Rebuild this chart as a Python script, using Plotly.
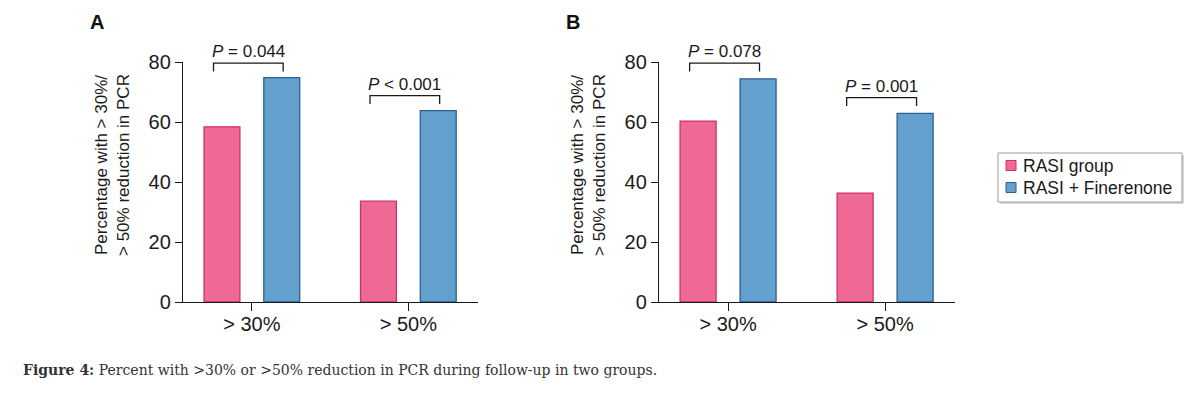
import plotly.graph_objects as go

# ---- data ----
categories = ["> 30%", "> 50%"]
series_names = ["RASI group", "RASI + Finerenone"]
panel_a_rasi = [58.4, 33.6]
panel_a_fin = [74.8, 63.8]
panel_b_rasi = [60.3, 36.3]
panel_b_fin = [74.4, 62.9]
panel_a_p = ["<i>P</i> = 0.044", "<i>P</i> &lt; 0.001"]
panel_b_p = ["<i>P</i> = 0.078", "<i>P</i> = 0.001"]
panel_labels = ["A", "B"]
y_ticks = [0, 20, 40, 60, 80]
y_title = "Percentage with > 30%/<br>> 50% reduction in PCR"
caption = "<b>Figure 4:</b> Percent with >30% or >50% reduction in PCR during follow-up in two groups."

# ---- styling ----
OFF = 8                      # page body margin of the browser
W, H = 1200 - OFF, 394 - OFF
FONT = "Arial, Liberation Sans, sans-serif"
PINK, PINK_EDGE = "#EE6A95", "#D0306A"
BLUE, BLUE_EDGE = "#64A0CD", "#2C5F92"
TXT = "#1a1a1a"

def px_x(p):
    return (p - OFF) / W

def px_y(p):
    return (H - (p - OFF)) / H

fig = go.Figure()

panels = [
    ("x", "y", panel_a_rasi, panel_a_fin, panel_a_p, [79.6, 68.8], (183, 478)),
    ("x2", "y2", panel_b_rasi, panel_b_fin, panel_b_p, [79.6, 68.1], (659, 955)),
]
xpos = list(range(len(categories)))
colors = [(PINK, PINK_EDGE), (BLUE, BLUE_EDGE)]

for i, (xa, ya, rasi, fin, pv, btop, dom) in enumerate(panels):
    for s, vals in enumerate([rasi, fin]):
        fig.add_trace(go.Bar(x=xpos, y=vals, name=series_names[s], xaxis=xa, yaxis=ya,
                             marker=dict(color=colors[s][0],
                                         line=dict(color=colors[s][1], width=1.3)),
                             showlegend=False))
    # significance brackets
    for c, (txt, top) in enumerate(zip(pv, btop)):
        x0, x1 = c - 0.245, c + 0.2
        drop = 2.8
        fig.add_shape(type="path", xref=xa, yref=ya,
                      path=f"M {x0} {top-drop} L {x0} {top} L {x1} {top} L {x1} {top-drop}",
                      line=dict(color=TXT, width=1.3))
        fig.add_annotation(x=(x0 + x1) / 2, y=top, xref=xa, yref=ya, text=txt,
                           showarrow=False, yanchor="bottom", yshift=0,
                           font=dict(size=17, color=TXT, family=FONT))
    # panel letter
    fig.add_annotation(x=px_x(dom[0] - 86), y=px_y(22), xref="paper", yref="paper",
                       xanchor="center", yanchor="middle",
                       text=f"<b>{panel_labels[i]}</b>", showarrow=False,
                       font=dict(size=20, color="#111", family=FONT))
    # y-axis title
    fig.add_annotation(x=px_x(dom[0] - 71), y=px_y(165), xref="paper", yref="paper",
                       xanchor="center", yanchor="middle", textangle=-90,
                       text=y_title, showarrow=False,
                       font=dict(size=17, color=TXT, family=FONT))

# legend (box, swatches, labels)
fig.add_shape(type="rect", xref="paper", yref="paper",
              x0=px_x(1000), x1=px_x(1184), y0=px_y(204), y1=px_y(155),
              line=dict(width=0), fillcolor="#d9d9d9", layer="above")
fig.add_shape(type="rect", xref="paper", yref="paper",
              x0=px_x(998), x1=px_x(1182), y0=px_y(202), y1=px_y(153),
              line=dict(color="#9a9a9a", width=1), fillcolor="white", layer="above")
for s, yc in enumerate([165.5, 187.5]):
    fig.add_shape(type="rect", xref="paper", yref="paper",
                  x0=px_x(1006), x1=px_x(1016), y0=px_y(yc + 5), y1=px_y(yc - 5),
                  line=dict(color=colors[s][1], width=1), fillcolor=colors[s][0],
                  layer="above")
    fig.add_annotation(x=px_x(1021), y=px_y(yc + 0.5), xref="paper", yref="paper",
                       xanchor="left", yanchor="middle", text=series_names[s],
                       showarrow=False, font=dict(size=17.5, color=TXT, family=FONT))

axis_common_x = dict(tickmode="array", tickvals=xpos, ticktext=categories,
                     range=[-0.44, 1.445], showline=True, linecolor=TXT, linewidth=1.3,
                     ticks="outside", ticklen=8, tickcolor=TXT, tickwidth=1.3,
                     ticklabelstandoff=-4,
                     tickfont=dict(size=20, color=TXT, family=FONT),
                     showgrid=False, zeroline=False, automargin=False)
axis_common_y = dict(range=[0, 80], tickvals=y_ticks, showline=True, linecolor=TXT,
                     linewidth=1.3, ticks="outside", ticklen=7, tickcolor=TXT,
                     tickwidth=1.3, tickfont=dict(size=20, color=TXT, family=FONT),
                     showgrid=False, zeroline=False, automargin=False)

ydom = [px_y(302), px_y(62)]
fig.update_layout(
    width=W, height=H,
    margin=dict(l=0, r=0, t=0, b=0, pad=0, autoexpand=False),
    paper_bgcolor="white", plot_bgcolor="white",
    barmode="group", bargap=0.236, bargroupgap=0.4,
    xaxis=dict(domain=[px_x(183), px_x(478)], anchor="y", **axis_common_x),
    yaxis=dict(domain=ydom, anchor="x", **axis_common_y),
    xaxis2=dict(domain=[px_x(659), px_x(955)], anchor="y2", **axis_common_x),
    yaxis2=dict(domain=ydom, anchor="x2", **axis_common_y),
    showlegend=False,
)

fig.add_annotation(x=px_x(21), y=px_y(370), xref="paper", yref="paper",
                   xanchor="left", yanchor="middle", text=caption, showarrow=False,
                   font=dict(size=14, color="#333", family="DejaVu Serif, Liberation Serif, serif"))

fig.write_html("out.html")
